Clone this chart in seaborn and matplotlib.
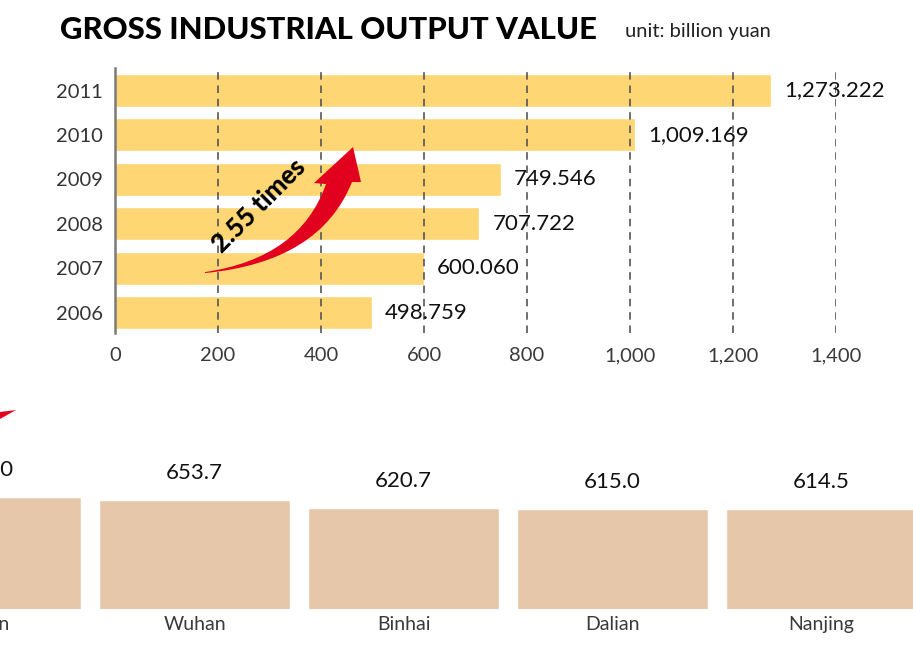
import matplotlib
matplotlib.use("Agg")
import matplotlib.pyplot as plt
import seaborn as sns
import pandas as pd
from matplotlib.path import Path
from matplotlib.patches import PathPatch, Polygon

# ---------------- data ----------------
years = ["2011", "2010", "2009", "2008", "2007", "2006"]
output_values = [1273.222, 1009.169, 749.546, 707.722, 600.060, 498.759]
value_labels = ["1,273.222", "1,009.169", "749.546", "707.722", "600.060", "498.759"]
x_ticks = [0, 200, 400, 600, 800, 1000, 1200, 1400]
x_tick_labels = ["0", "200", "400", "600", "800", "1,000", "1,200", "1,400"]

cities = ["Tianjin", "Wuhan", "Binhai", "Dalian", "Nanjing"]
city_values = [667.0, 653.7, 620.7, 615.0, 614.5]

title = "GROSS INDUSTRIAL OUTPUT VALUE"
unit = "unit: billion yuan"
growth_text = "2.55 times"

YELLOW = "#FED673"
TAN = "#E6C7A9"
RED = "#E2001F"

sns.set_theme(style="white")
plt.rcParams["font.family"] = ["Lato", "DejaVu Sans"]

fig = plt.figure(figsize=(9.13, 6.56), dpi=100)
W, H = 913, 656

# ---------------- top chart ----------------
ax = fig.add_axes([115 / W, 1 - 333 / H, (836 - 115) / W, (333 - 68) / H])
df = pd.DataFrame({"year": years, "value": output_values})
sns.barplot(data=df, y="year", x="value", orient="h", color=YELLOW,
            width=0.743, ax=ax, saturation=1, order=years)
ax.set_xlim(0, 1400)
ax.set_ylim(5.46, -0.507)
ax.set_xlabel("")
ax.set_ylabel("")
for s in ["top", "right", "bottom"]:
    ax.spines[s].set_visible(False)
ax.spines["left"].set_color("#7a7a7a")
ax.spines["left"].set_linewidth(1.8)
ax.spines["left"].set_zorder(5)
ax.set_xticks(x_ticks)
ax.set_xticklabels(x_tick_labels)
ax.tick_params(axis="x", length=0, pad=10, labelsize=14.5, labelcolor="#3a3a3a")
ax.tick_params(axis="y", length=0, pad=9, labelsize=14.5, labelcolor="#333333")
for xv in x_ticks[1:]:
    ax.axvline(xv, color="#555555", lw=1.2, linestyle=(0, (4.5, 3.5)), zorder=3)

for i, (v, lab) in enumerate(zip(output_values, value_labels)):
    ax.annotate(lab, (v, i), xytext=(9.5, 0), textcoords="offset points",
                ha="left", va="center", fontsize=16, color="#111111",
                annotation_clip=False)

# curved red arrow (decoration) in data coordinates of the top axes
verts = [
    (174.8, 4.110),
    (398.1, 3.863), (460.2, 2.061),
    (477.7, 2.061),
    (462.2, 1.273),
    (386.4, 2.083),
    (409.7, 2.106),
    (359.3, 3.773), (174.8, 4.088),
    (174.8, 4.110),
]
codes = [Path.MOVETO, Path.CURVE3, Path.CURVE3, Path.LINETO, Path.LINETO,
         Path.LINETO, Path.LINETO, Path.CURVE3, Path.CURVE3, Path.CLOSEPOLY]
ax.add_patch(PathPatch(Path(verts, codes), facecolor=RED, edgecolor="none",
                       zorder=6, clip_on=False))
ax.text(280, 2.60, growth_text, rotation=45, rotation_mode="anchor",
        ha="center", va="center", fontsize=18.5, fontweight="black",
        color="#000000", zorder=7)

# ---------------- titles ----------------
fig.text(60 / W, 1 - 30 / H, title, fontsize=22.3, fontweight="black",
         color="#000000", ha="left", va="center")
fig.text(625 / W, 1 - 32 / H, unit, fontsize=14.5, color="#222222",
         ha="left", va="center")

# ---------------- bottom chart ----------------
ax2 = fig.add_axes([0, 1 - 609 / H, 1, (609 - 440) / H])
df2 = pd.DataFrame({"city": cities, "value": city_values})
sns.barplot(data=df2, x="city", y="value", color=TAN, width=0.91,
            ax=ax2, saturation=1, order=cities)
ax2.set_xlim(0.069, 4.438)
ax2.set_ylim(180, 915)
ax2.set_xlabel("")
ax2.set_ylabel("")
ax2.set_yticks([])
ax2.set_xticks([])
for s in ax2.spines.values():
    s.set_visible(False)
for i, (c, v) in enumerate(zip(cities, city_values)):
    ax2.annotate(f"{v:.1f}", (i, v), xytext=(0, 19.5), textcoords="offset points",
                 ha="center", va="center", fontsize=16, color="#111111",
                 annotation_clip=False)
    ax2.annotate(c, (i, 0), xycoords=("data", "axes fraction"),
                 xytext=(-3 if i == 0 else 0, -11), textcoords="offset points",
                 ha="center", va="center", fontsize=14, color="#3a3a3a",
                 annotation_clip=False)

# red arrow fragment at left edge (decoration)
frag = [(0 / W, 1 - 412 / H), (16 / W, 1 - 410 / H), (0 / W, 1 - 419 / H)]
fig.patches.append(Polygon(frag, closed=True, facecolor=RED, edgecolor="none",
                           transform=fig.transFigure, figure=fig))

fig.savefig("out.png", dpi=100)
